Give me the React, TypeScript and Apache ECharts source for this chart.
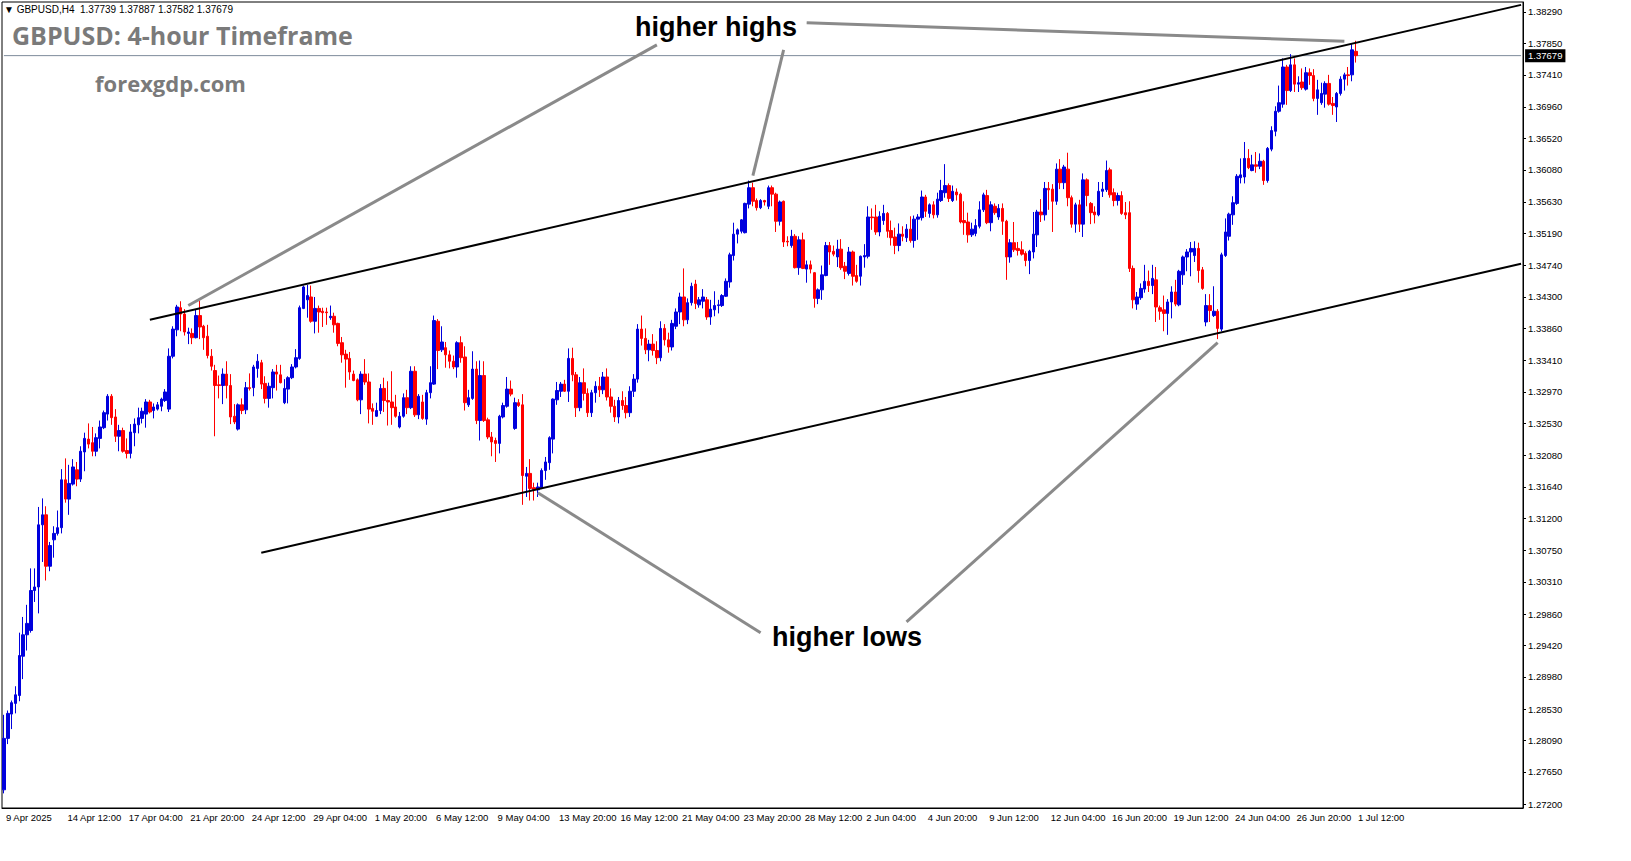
import React, { useEffect, useRef } from "react";
import * as echarts from "echarts";

type Bar = [number, number, number, number]; // open, high, low, close

// 9 Apr 20:00 .. 28 Apr (bars 0-79)
const BARS_APRIL: Bar[] = [
  [1.2740,1.2845,1.2735,1.2812],[1.2812,1.2851,1.2804,1.2847],[1.2846,1.2865,1.2825,1.2862],[1.2861,1.2885,1.2847,1.2873],
  [1.2872,1.2960,1.2864,1.2928],[1.2927,1.2982,1.2895,1.2957],[1.2957,1.2999,1.2935,1.2973],[1.2963,1.3050,1.2960,1.3019],
  [1.3019,1.3050,1.3003,1.3024],[1.3024,1.3136,1.2987,1.3111],[1.3111,1.3148,1.3059,1.3125],[1.3125,1.3137,1.3033,1.3053],
  [1.3053,1.3087,1.3046,1.3082],[1.3090,1.3109,1.3065,1.3099],[1.3099,1.3131,1.3096,1.3107],[1.3107,1.3189,1.3099,1.3174],
  [1.3174,1.3204,1.3142,1.3147],[1.3147,1.3195,1.3125,1.3169],[1.3168,1.3203,1.3166,1.3192],[1.3188,1.3199,1.3165,1.3175],
  [1.3175,1.3221,1.3171,1.3214],[1.3213,1.3240,1.3186,1.3232],[1.3231,1.3253,1.3218,1.3224],[1.3226,1.3248,1.3207,1.3214],
  [1.3214,1.3239,1.3207,1.3233],[1.3232,1.3257,1.3218,1.3248],[1.3247,1.3271,1.3245,1.3268],[1.3266,1.3294,1.3257,1.3291],
  [1.3291,1.3294,1.3251,1.3261],[1.3262,1.3273,1.3227,1.3235],[1.3235,1.3251,1.3214,1.3243],[1.3243,1.3247,1.3212,1.3214],
  [1.3215,1.3232,1.3204,1.3211],[1.3211,1.3252,1.3204,1.3241],[1.3240,1.3260,1.3221,1.3252],[1.3251,1.3275,1.3239,1.3261],
  [1.3260,1.3275,1.3253,1.3270],[1.3266,1.3287,1.3247,1.3283],[1.3283,1.3286,1.3267,1.3269],[1.3271,1.3281,1.3260,1.3276],
  [1.3273,1.3283,1.3271,1.3279],[1.3277,1.3289,1.3270,1.3287],[1.3285,1.3301,1.3283,1.3297],[1.3273,1.3358,1.3269,1.3347],
  [1.3347,1.3389,1.3344,1.3385],[1.3384,1.3419,1.3375,1.3416],[1.3415,1.3424,1.3382,1.3406],[1.3406,1.3413,1.3376,1.3381],
  [1.3379,1.3387,1.3364,1.3381],[1.3379,1.3386,1.3364,1.3373],[1.3373,1.3413,1.3372,1.3404],[1.3404,1.3425,1.3371,1.3388],
  [1.3389,1.3391,1.3356,1.3373],[1.3375,1.3391,1.3344,1.3348],[1.3347,1.3357,1.3327,1.3333],[1.3327,1.3335,1.3235,1.3306],
  [1.3307,1.3320,1.3288,1.3306],[1.3306,1.3330,1.3280,1.3322],[1.3322,1.3340,1.3288,1.3306],[1.3306,1.3322,1.3252,1.3262],
  [1.3263,1.3280,1.3252,1.3255],[1.3245,1.3281,1.3243,1.3279],[1.3279,1.3288,1.3266,1.3271],[1.3272,1.3311,1.3266,1.3303],
  [1.3303,1.3323,1.3299,1.3302],[1.3303,1.3335,1.3291,1.3332],[1.3330,1.3350,1.3317,1.3340],[1.3338,1.3342,1.3301,1.3308],
  [1.3309,1.3319,1.3281,1.3288],[1.3288,1.3310,1.3275,1.3305],[1.3303,1.3329,1.3288,1.3325],[1.3325,1.3335,1.3299,1.3322],
  [1.3321,1.3335,1.3309,1.3310],[1.3282,1.3315,1.3280,1.3302],[1.3301,1.3319,1.3281,1.3317],[1.3317,1.3336,1.3315,1.3332],
  [1.3332,1.3357,1.3330,1.3345],[1.3344,1.3418,1.3342,1.3415],[1.3414,1.3446,1.3413,1.3444],[1.3426,1.3447,1.3401,1.3432],
];

// bars 80-166
const BARS_MAY: Bar[] = [
  [1.3430,1.3446,1.3394,1.3396],[1.3396,1.3430,1.3379,1.3414],[1.3414,1.3418,1.3380,1.3409],[1.3410,1.3415,1.3388,1.3408],
  [1.3409,1.3415,1.3391,1.3408],[1.3401,1.3418,1.3398,1.3403],[1.3403,1.3408,1.3380,1.3391],[1.3393,1.3394,1.3361,1.3365],
  [1.3366,1.3374,1.3338,1.3349],[1.3350,1.3356,1.3303,1.3343],[1.3344,1.3353,1.3314,1.3325],[1.3322,1.3327,1.3312,1.3313],
  [1.3314,1.3316,1.3284,1.3286],[1.3286,1.3326,1.3266,1.3322],[1.3322,1.3343,1.3307,1.3311],[1.3311,1.3323,1.3253,1.3273],
  [1.3274,1.3281,1.3251,1.3270],[1.3263,1.3282,1.3262,1.3271],[1.3271,1.3308,1.3266,1.3302],[1.3302,1.3317,1.3269,1.3285],
  [1.3285,1.3312,1.3250,1.3283],[1.3283,1.3326,1.3251,1.3275],[1.3276,1.3293,1.3261,1.3263],[1.3248,1.3269,1.3246,1.3263],
  [1.3263,1.3295,1.3261,1.3289],[1.3289,1.3300,1.3266,1.3275],[1.3275,1.3333,1.3273,1.3326],[1.3326,1.3333,1.3262,1.3265],
  [1.3265,1.3294,1.3259,1.3291],[1.3283,1.3293,1.3258,1.3260],[1.3259,1.3300,1.3251,1.3296],[1.3296,1.3333,1.3288,1.3310],
  [1.3308,1.3404,1.3307,1.3397],[1.3396,1.3399,1.3329,1.3355],[1.3356,1.3389,1.3353,1.3367],[1.3359,1.3367,1.3331,1.3349],
  [1.3349,1.3355,1.3330,1.3340],[1.3340,1.3348,1.3329,1.3332],[1.3332,1.3368,1.3317,1.3366],[1.3366,1.3375,1.3338,1.3345],
  [1.3346,1.3361,1.3271,1.3282],[1.3279,1.3300,1.3276,1.3289],[1.3288,1.3354,1.3286,1.3329],[1.3329,1.3340,1.3252,1.3257],
  [1.3257,1.3341,1.3229,1.3320],[1.3320,1.3340,1.3255,1.3257],[1.3258,1.3261,1.3231,1.3234],[1.3234,1.3241,1.3207,1.3227],
  [1.3229,1.3233,1.3199,1.3225],[1.3225,1.3265,1.3211,1.3263],[1.3262,1.3282,1.3260,1.3278],[1.3277,1.3318,1.3275,1.3301],
  [1.3301,1.3313,1.3291,1.3294],[1.3246,1.3289,1.3244,1.3282],[1.3282,1.3287,1.3276,1.3278],[1.3279,1.3294,1.3139,1.3180],
  [1.3179,1.3192,1.3150,1.3183],[1.3183,1.3203,1.3145,1.3162],[1.3163,1.3170,1.3145,1.3160],[1.3160,1.3170,1.3150,1.3164],
  [1.3163,1.3190,1.3161,1.3187],[1.3187,1.3206,1.3174,1.3199],[1.3198,1.3235,1.3188,1.3233],[1.3231,1.3288,1.3211,1.3287],
  [1.3286,1.3311,1.3279,1.3299],[1.3298,1.3311,1.3290,1.3308],[1.3308,1.3314,1.3297,1.3298],[1.3298,1.3358,1.3283,1.3344],
  [1.3344,1.3359,1.3312,1.3321],[1.3321,1.3325,1.3262,1.3275],[1.3275,1.3318,1.3270,1.3310],[1.3310,1.3330,1.3285,1.3295],
  [1.3295,1.3302,1.3262,1.3268],[1.3268,1.3300,1.3262,1.3296],[1.3296,1.3312,1.3282,1.3305],[1.3305,1.3318,1.3290,1.3300],
  [1.3300,1.3325,1.3294,1.3318],[1.3318,1.3330,1.3285,1.3290],[1.3290,1.3302,1.3268,1.3277],[1.3277,1.3286,1.3255,1.3262],
  [1.3262,1.3290,1.3253,1.3285],[1.3285,1.3298,1.3272,1.3278],[1.3278,1.3290,1.3260,1.3268],[1.3268,1.3305,1.3262,1.3298],
  [1.3298,1.3322,1.3290,1.3315],[1.3315,1.3392,1.3310,1.3385],[1.3385,1.3404,1.3362,1.3372],
];

// bars 167-260
const BARS_JUNE_A: Bar[] = [
  [1.3372,1.3386,1.3350,1.3356],[1.3356,1.3370,1.3340,1.3364],[1.3364,1.3378,1.3348,1.3355],[1.3355,1.3368,1.3336,1.3345],
  [1.3345,1.3396,1.3340,1.3386],[1.3386,1.3392,1.3362,1.3370],[1.3370,1.3380,1.3352,1.3360],[1.3360,1.3398,1.3355,1.3393],
  [1.3389,1.3414,1.3385,1.3409],[1.3409,1.3436,1.3392,1.3430],[1.3430,1.3470,1.3389,1.3398],[1.3398,1.3428,1.3392,1.3422],
  [1.3422,1.3450,1.3418,1.3445],[1.3448,1.3454,1.3413,1.3421],[1.3419,1.3430,1.3415,1.3426],[1.3424,1.3441,1.3414,1.3430],
  [1.3426,1.3430,1.3398,1.3402],[1.3402,1.3426,1.3391,1.3413],[1.3412,1.3438,1.3403,1.3418],[1.3418,1.3426,1.3407,1.3419],
  [1.3418,1.3434,1.3416,1.3432],[1.3431,1.3456,1.3430,1.3452],[1.3451,1.3492,1.3443,1.3489],[1.3488,1.3534,1.3481,1.3518],
  [1.3518,1.3526,1.3505,1.3524],[1.3522,1.3539,1.3519,1.3538],[1.3520,1.3562,1.3519,1.3561],[1.3560,1.3593,1.3554,1.3583],
  [1.3583,1.3590,1.3557,1.3564],[1.3565,1.3568,1.3551,1.3555],[1.3555,1.3567,1.3553,1.3565],[1.3565,1.3566,1.3558,1.3563],
  [1.3557,1.3586,1.3553,1.3583],[1.3583,1.3586,1.3557,1.3574],[1.3574,1.3576,1.3521,1.3536],[1.3536,1.3565,1.3530,1.3563],
  [1.3564,1.3565,1.3500,1.3507],[1.3508,1.3515,1.3501,1.3507],[1.3502,1.3524,1.3499,1.3515],[1.3515,1.3518,1.3470,1.3471],
  [1.3471,1.3515,1.3461,1.3510],[1.3510,1.3520,1.3469,1.3470],[1.3469,1.3481,1.3450,1.3475],[1.3475,1.3481,1.3463,1.3469],
  [1.3464,1.3465,1.3415,1.3428],[1.3428,1.3442,1.3420,1.3440],[1.3440,1.3474,1.3426,1.3461],[1.3460,1.3507,1.3459,1.3502],
  [1.3502,1.3507,1.3475,1.3493],[1.3494,1.3502,1.3487,1.3490],[1.3486,1.3510,1.3472,1.3497],[1.3497,1.3511,1.3468,1.3471],
  [1.3473,1.3479,1.3455,1.3466],[1.3463,1.3500,1.3460,1.3493],[1.3493,1.3495,1.3446,1.3459],[1.3460,1.3475,1.3450,1.3452],
  [1.3459,1.3488,1.3446,1.3487],[1.3486,1.3504,1.3471,1.3488],[1.3487,1.3557,1.3484,1.3542],[1.3542,1.3554,1.3524,1.3541],
  [1.3542,1.3559,1.3517,1.3521],[1.3521,1.3550,1.3515,1.3543],[1.3537,1.3559,1.3531,1.3547],[1.3547,1.3549,1.3513,1.3522],
  [1.3523,1.3537,1.3502,1.3513],[1.3514,1.3527,1.3490,1.3502],[1.3502,1.3533,1.3494,1.3518],[1.3518,1.3529,1.3508,1.3515],
  [1.3513,1.3532,1.3507,1.3525],[1.3525,1.3543,1.3506,1.3509],[1.3509,1.3544,1.3499,1.3539],[1.3539,1.3546,1.3510,1.3542],
  [1.3541,1.3579,1.3537,1.3570],[1.3570,1.3573,1.3542,1.3550],[1.3547,1.3561,1.3541,1.3559],[1.3559,1.3564,1.3540,1.3545],
  [1.3545,1.3576,1.3541,1.3567],[1.3565,1.3594,1.3563,1.3579],[1.3576,1.3616,1.3569,1.3586],[1.3586,1.3589,1.3563,1.3568],
  [1.3565,1.3586,1.3563,1.3578],[1.3577,1.3582,1.3565,1.3573],[1.3574,1.3576,1.3533,1.3535],[1.3537,1.3564,1.3517,1.3534],
  [1.3535,1.3548,1.3506,1.3517],[1.3517,1.3534,1.3514,1.3525],[1.3519,1.3539,1.3515,1.3530],[1.3529,1.3564,1.3526,1.3552],
  [1.3552,1.3576,1.3549,1.3573],[1.3572,1.3580,1.3532,1.3534],[1.3534,1.3564,1.3522,1.3559],[1.3557,1.3561,1.3545,1.3548],
  [1.3542,1.3560,1.3538,1.3554],[1.3554,1.3561,1.3517,1.3536],
];

// bars 261-352
const BARS_JUNE_B: Bar[] = [
  [1.3536,1.3538,1.3454,1.3486],[1.3486,1.3511,1.3478,1.3506],[1.3506,1.3535,1.3493,1.3496],[1.3498,1.3507,1.3488,1.3495],
  [1.3496,1.3508,1.3488,1.3490],[1.3491,1.3494,1.3473,1.3481],[1.3481,1.3496,1.3462,1.3494],[1.3493,1.3549,1.3484,1.3518],
  [1.3517,1.3552,1.3500,1.3549],[1.3549,1.3567,1.3535,1.3545],[1.3545,1.3591,1.3537,1.3582],[1.3582,1.3591,1.3552,1.3580],
  [1.3581,1.3588,1.3521,1.3564],[1.3564,1.3617,1.3559,1.3609],[1.3609,1.3623,1.3581,1.3590],[1.3590,1.3615,1.3581,1.3612],
  [1.3609,1.3632,1.3557,1.3569],[1.3569,1.3572,1.3527,1.3532],[1.3532,1.3562,1.3520,1.3559],[1.3559,1.3566,1.3521,1.3532],
  [1.3532,1.3603,1.3514,1.3594],[1.3594,1.3596,1.3557,1.3572],[1.3561,1.3563,1.3532,1.3548],[1.3549,1.3557,1.3533,1.3545],
  [1.3545,1.3591,1.3543,1.3578],[1.3578,1.3591,1.3570,1.3581],[1.3580,1.3621,1.3577,1.3607],[1.3608,1.3611,1.3569,1.3573],
  [1.3576,1.3582,1.3557,1.3565],[1.3565,1.3576,1.3558,1.3572],[1.3572,1.3578,1.3545,1.3547],[1.3548,1.3563,1.3539,1.3545],
  [1.3548,1.3564,1.3465,1.3470],[1.3470,1.3474,1.3414,1.3426],[1.3420,1.3437,1.3412,1.3430],[1.3429,1.3449,1.3426,1.3442],
  [1.3441,1.3475,1.3436,1.3452],[1.3452,1.3467,1.3437,1.3446],[1.3446,1.3475,1.3434,1.3456],[1.3454,1.3472,1.3395,1.3416],
  [1.3415,1.3418,1.3398,1.3410],[1.3412,1.3432,1.3382,1.3407],[1.3407,1.3427,1.3377,1.3423],[1.3423,1.3445,1.3400,1.3437],
  [1.3437,1.3454,1.3417,1.3420],[1.3419,1.3468,1.3417,1.3466],[1.3461,1.3488,1.3447,1.3486],[1.3486,1.3497,1.3466,1.3493],
  [1.3493,1.3507,1.3459,1.3498],[1.3488,1.3508,1.3479,1.3498],[1.3498,1.3506,1.3450,1.3467],[1.3468,1.3472,1.3440,1.3442],
  [1.3395,1.3434,1.3389,1.3418],[1.3418,1.3434,1.3395,1.3411],[1.3404,1.3445,1.3402,1.3410],[1.3410,1.3413,1.3371,1.3386],
  [1.3385,1.3492,1.3382,1.3489],[1.3488,1.3540,1.3486,1.3521],[1.3515,1.3548,1.3509,1.3546],[1.3545,1.3571,1.3531,1.3562],
  [1.3561,1.3602,1.3559,1.3599],[1.3597,1.3624,1.3589,1.3601],[1.3598,1.3647,1.3589,1.3624],[1.3624,1.3637,1.3609,1.3611],
  [1.3607,1.3629,1.3606,1.3615],[1.3615,1.3633,1.3604,1.3613],[1.3613,1.3631,1.3609,1.3620],[1.3620,1.3622,1.3587,1.3593],
  [1.3593,1.3640,1.3590,1.3638],[1.3637,1.3669,1.3634,1.3663],[1.3662,1.3697,1.3655,1.3690],[1.3690,1.3726,1.3688,1.3702],
  [1.3700,1.3764,1.3695,1.3752],[1.3752,1.3755,1.3699,1.3719],[1.3719,1.3770,1.3717,1.3755],[1.3755,1.3764,1.3717,1.3728],
  [1.3728,1.3739,1.3717,1.3730],[1.3731,1.3750,1.3720,1.3723],[1.3721,1.3752,1.3719,1.3744],[1.3744,1.3750,1.3727,1.3740],
  [1.3740,1.3749,1.3704,1.3708],[1.3708,1.3734,1.3685,1.3720],[1.3702,1.3730,1.3699,1.3715],[1.3714,1.3732,1.3695,1.3729],
  [1.3729,1.3741,1.3698,1.3700],[1.3701,1.3710,1.3685,1.3698],[1.3696,1.3717,1.3675,1.3715],[1.3715,1.3739,1.3712,1.3735],
  [1.3735,1.3744,1.3719,1.3741],[1.3741,1.3752,1.3726,1.3740],[1.3741,1.3784,1.3732,1.3776],[1.37739,1.37887,1.37582,1.37679],
];

const X_LABELS = [
  "9 Apr 2025", "14 Apr 12:00", "17 Apr 04:00", "21 Apr 20:00", "24 Apr 12:00", "29 Apr 04:00",
  "1 May 20:00", "6 May 12:00", "9 May 04:00", "13 May 20:00", "16 May 12:00", "21 May 04:00",
  "23 May 20:00", "28 May 12:00", "2 Jun 04:00", "4 Jun 20:00", "9 Jun 12:00", "12 Jun 04:00",
  "16 Jun 20:00", "19 Jun 12:00", "24 Jun 04:00", "26 Jun 20:00", "1 Jul 12:00",
];
const LABEL_STEP = 16;
const SLOTS = 396;

const Y_TICKS = [
  1.3829, 1.3785, 1.3741, 1.3696, 1.3652, 1.3608, 1.3563, 1.3519, 1.3474, 1.343, 1.3386, 1.3341, 1.3297,
  1.3253, 1.3208, 1.3164, 1.312, 1.3075, 1.3031, 1.2986, 1.2942, 1.2898, 1.2853, 1.2809, 1.2765, 1.272,
];
const Y_MIN = 1.271452;
const Y_MAX = 1.3843;

const HEADER = "GBPUSD,H4  1.37739 1.37887 1.37582 1.37679";
const LAST_PRICE = 1.37679;

// trend channel and annotation pointers, in (bar index, price)
const UPPER_LINE: [number, number][] = [[38, 1.3398], [395, 1.3839]];
const LOWER_LINE: [number, number][] = [[67, 1.3072], [395, 1.34766]];
const POINTERS: [number, number][][] = [
  [[48, 1.3418], [170, 1.3783]],
  [[195, 1.3600], [203, 1.3776]],
  [[209, 1.3814], [349, 1.3788]],
  [[139, 1.3156], [197, 1.2960]],
  [[235, 1.2975], [316, 1.3366]],
];

const FONT = '"Liberation Sans", Arial, sans-serif';
const AXIS_FONT_SIZE = 9.5;

export default function App() {
  const ref = useRef<HTMLDivElement>(null);

  useEffect(() => {
    document.body.style.margin = "0";
    if (!ref.current) return;
    const chart = echarts.init(ref.current, null, { renderer: "svg" });

    const bars = [...BARS_APRIL, ...BARS_MAY, ...BARS_JUNE_A, ...BARS_JUNE_B];
    const candleData = bars.map(([o, h, l, c]) => [o, c, Math.min(l, o, c), Math.max(h, o, c)]);
    const slots = Array.from({ length: SLOTS }, (_, i) => String(i));
    const showTick = (i: number) => i % LABEL_STEP === 0 && i / LABEL_STEP < X_LABELS.length;

    const lineSeries = (data: [number, number][], color: string, width: number, z = 5) => ({
      type: "line",
      data,
      showSymbol: false,
      symbol: "none",
      silent: true,
      clip: false,
      z,
      lineStyle: { color, width },
    });

    chart.setOption({
      animation: false,
      backgroundColor: "#ffffff",
      textStyle: { fontFamily: FONT },
      grid: {
        left: 2, top: 2, width: 1521, height: 806,
        show: true, borderColor: "#000", borderWidth: 1, backgroundColor: "transparent",
      },
      xAxis: {
        type: "category",
        data: slots,
        boundaryGap: true,
        axisLine: { lineStyle: { color: "#000", width: 1 } },
        axisTick: { alignWithLabel: true, interval: (i: number) => showTick(i), length: 4, lineStyle: { color: "#000" } },
        axisLabel: {
          interval: (i: number) => showTick(i),
          formatter: (_v: string, i: number) => (showTick(i) ? X_LABELS[i / LABEL_STEP] : ""),
          align: "left",
          color: "#000",
          fontSize: AXIS_FONT_SIZE,
          fontFamily: FONT,
          margin: 4,
          padding: [0, 0, 0, 2],
        },
        splitLine: { show: false },
      },
      yAxis: {
        type: "value",
        position: "right",
        min: Y_MIN,
        max: Y_MAX,
        scale: true,
        axisLine: { show: true, lineStyle: { color: "#000", width: 1 } },
        axisTick: { show: true, length: 3, customValues: Y_TICKS, lineStyle: { color: "#000" } },
        axisLabel: {
          customValues: Y_TICKS,
          formatter: (v: number) => v.toFixed(5),
          color: "#000",
          fontSize: AXIS_FONT_SIZE,
          fontFamily: FONT,
          margin: 5,
          align: "left",
        },
        splitLine: { show: false },
      },
      series: [
        {
          ...lineSeries([[0, LAST_PRICE], [395, LAST_PRICE]], "#7d8b9b", 1, 1),
          endLabel: {
            show: true,
            formatter: () => LAST_PRICE.toFixed(5),
            color: "#fff",
            backgroundColor: "#000",
            padding: [2, 3, 1, 3],
            fontSize: AXIS_FONT_SIZE,
            fontFamily: FONT,
            distance: 4,
          },
        },
        {
          type: "candlestick",
          data: candleData,
          barWidth: 3,
          z: 3,
          itemStyle: {
            color: "#0000dd",
            color0: "#ff0000",
            borderColor: "#0000dd",
            borderColor0: "#ff0000",
            borderWidth: 1,
          },
        },
        lineSeries(UPPER_LINE, "#000000", 2),
        lineSeries(LOWER_LINE, "#000000", 2),
        ...POINTERS.map((p) => lineSeries(p, "#8a8a8a", 3)),
      ],
      graphic: [
        {
          type: "text", left: 4, top: 4, z: 10,
          style: { text: "\u25BC " + HEADER, font: `10px ${FONT}`, fill: "#000" },
        },
        {
          type: "text", x: 12, y: 35, z: 10,
          style: { text: "GBPUSD: 4-hour Timeframe", font: `bold 25px "Open Sans", sans-serif`, fill: "#7a7a7a", verticalAlign: "middle" },
        },
        {
          type: "text", x: 95, y: 83, z: 10,
          style: { text: "forexgdp.com", font: `bold 22px "Open Sans", sans-serif`, fill: "#7a7a7a", verticalAlign: "middle" },
        },
        {
          type: "text", x: 716, y: 27, z: 10,
          style: { text: "higher highs", font: `bold 27px ${FONT}`, fill: "#000", align: "center", verticalAlign: "middle" },
        },
        {
          type: "text", x: 847, y: 637, z: 10,
          style: { text: "higher lows", font: `bold 27px ${FONT}`, fill: "#000", align: "center", verticalAlign: "middle" },
        },
      ],
    });

    return () => chart.dispose();
  }, []);

  return <div ref={ref} style={{ width: 1631, height: 861 }} />;
}
